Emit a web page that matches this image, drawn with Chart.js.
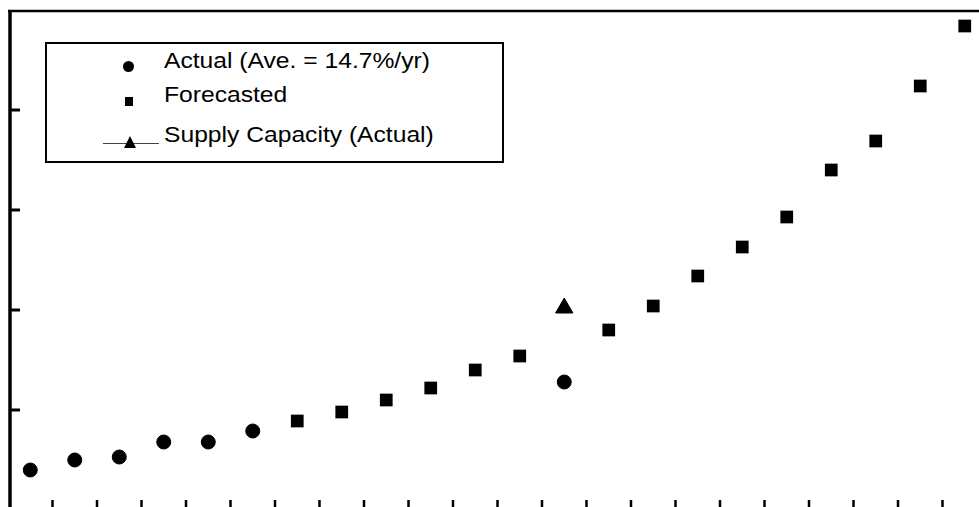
<!DOCTYPE html>
<html lang="en">
<head>
<meta charset="UTF-8">
<title>Actual vs forecasted demand</title>
<script src="https://cdn.jsdelivr.net/npm/chart.js@4.4.1/dist/chart.umd.min.js"></script>
<style>
    html, body { margin: 0; padding: 0; background: #fff; overflow: hidden; }
    #wrap { position: relative; width: 979px; height: 507px; overflow: hidden; }
    #chart { position: absolute; left: 0; top: 0; }
    #legend {
        position: absolute; left: 45px; top: 42px; width: 459px; height: 121px;
        box-sizing: border-box; border: 2px solid #000; background: #fff;
    }
    #legend .txt {
        position: absolute; left: 117px; white-space: nowrap;
        font: 22px "Liberation Sans", Arial, sans-serif; line-height: 22px; color: #000;
        transform: scaleX(1.12); transform-origin: 0 0;
    }
    #legend .mk { position: absolute; background: #000; }
    #legend .circle { width: 11px; height: 11px; border-radius: 50%; }
    #legend .rect { width: 8px; height: 9px; }
    #legend .line { height: 1px; width: 56px; background: #444; }
    #legend .triangle {
        width: 0; height: 0; background: none;
        border-left: 6px solid transparent; border-right: 6px solid transparent;
        border-bottom: 12px solid #000;
    }
</style>
</head>
<body>
<div id="wrap">
    <canvas id="chart" width="1000" height="514"></canvas>
    <div id="legend"></div>
</div>

<script>
// one category per period (no labels printed on the original axis)
const periods = [1, 2, 3, 4, 5, 6, 7, 8, 9, 10, 11, 12, 13, 14, 15, 16, 17, 18, 19, 20, 21, 22];

const actual = [40, 50, 53, 68, 68, 79, null, null, null, null, null, null,
    128, null, null, null, null, null, null, null, null, null];
const forecasted = [null, null, null, null, null, null, 89, 98, 110, 122, 140, 154,
    null, 180, 204, 234, 263, 293, 340, 369, 424, 484];
const supplyCapacity = [null, null, null, null, null, null, null, null, null, null, null, null,
    202, null, null, null, null, null, null, null, null, null];

const yTicks = [100, 200, 300, 400];

// frame + inward tick marks, placed through the chart's own scales
const framePlugin = {
    id: 'frame',
    afterDraw(chart) {
        const { ctx, chartArea: a, scales: { x, y } } = chart;
        ctx.save();
        ctx.strokeStyle = '#000';

        ctx.lineWidth = 2.5;
        ctx.beginPath();
        ctx.moveTo(a.left, a.top + 1);
        ctx.lineTo(a.right, a.top + 1);
        ctx.stroke();

        ctx.lineWidth = 3.5;
        ctx.beginPath();
        ctx.moveTo(a.left + 2, a.top);
        ctx.lineTo(a.left + 2, a.bottom);
        ctx.stroke();

        ctx.lineWidth = 3;
        yTicks.forEach(v => {
            const py = y.getPixelForValue(v);
            ctx.beginPath();
            ctx.moveTo(a.left + 2, py);
            ctx.lineTo(a.left + 12, py);
            ctx.stroke();
        });

        ctx.lineWidth = 2.5;
        for (let k = 1; k < periods.length; k++) {
            const px = x.getPixelForValue(k - 0.5);
            ctx.beginPath();
            ctx.moveTo(px, a.bottom - 10);
            ctx.lineTo(px, a.bottom);
            ctx.stroke();
        }
        ctx.restore();
    }
};

const ctx = document.getElementById('chart').getContext('2d');
const myChart = new Chart(ctx, {
    type: 'line',
    data: {
        labels: periods,
        datasets: [{
            label: 'Actual (Ave. = 14.7%/yr)',
            data: actual,
            pointStyle: 'circle',
            pointRadius: 7,
            borderWidth: 1,
            borderColor: '#000',
            backgroundColor: '#000',
            showLine: false
        }, {
            label: 'Forecasted',
            data: forecasted,
            pointStyle: 'rect',
            pointRadius: 9,
            borderWidth: 0,
            borderColor: '#000',
            backgroundColor: '#000',
            showLine: false
        }, {
            label: 'Supply Capacity (Actual)',
            data: supplyCapacity,
            pointStyle: 'triangle',
            pointRadius: 10,
            borderWidth: 1,
            borderColor: '#000',
            backgroundColor: '#000',
            showLine: false
        }]
    },
    options: {
        responsive: false,
        animation: false,
        layout: { autoPadding: false, padding: { left: 8, top: 10, right: 13, bottom: 4 } },
        plugins: { legend: { display: false }, tooltip: { enabled: false } },
        scales: {
            x: { type: 'category', offset: true, display: false },
            y: { min: 0, max: 500, display: false }
        }
    },
    plugins: [framePlugin]
});

// html legend built from the datasets
const rowBaseline = [69, 103, 143];
const markerCenter = [[128, 66], [129, 101], [130, 142]];
const legendEl = document.getElementById('legend');
const ox = 47, oy = 44;
myChart.data.datasets.forEach((ds, i) => {
    const [cx, cy] = markerCenter[i];
    if (ds.pointStyle === 'triangle') {
        const ln = document.createElement('div');
        ln.className = 'mk line';
        ln.style.left = (103 - ox) + 'px';
        ln.style.top = (cy + 1 - oy) + 'px';
        legendEl.appendChild(ln);
    }
    const mk = document.createElement('div');
    mk.className = 'mk ' + ds.pointStyle;
    const w = ds.pointStyle === 'circle' ? 11 : ds.pointStyle === 'rect' ? 8 : 12;
    const h = ds.pointStyle === 'circle' ? 11 : ds.pointStyle === 'rect' ? 9 : 12;
    mk.style.left = (cx - w / 2 - ox) + 'px';
    mk.style.top = (cy - h / 2 - oy) + 'px';
    legendEl.appendChild(mk);

    const t = document.createElement('div');
    t.className = 'txt';
    t.textContent = ds.label;
    t.style.top = (rowBaseline[i] - 18.6 - oy) + 'px';
    legendEl.appendChild(t);
});
</script>
</body>
</html>
